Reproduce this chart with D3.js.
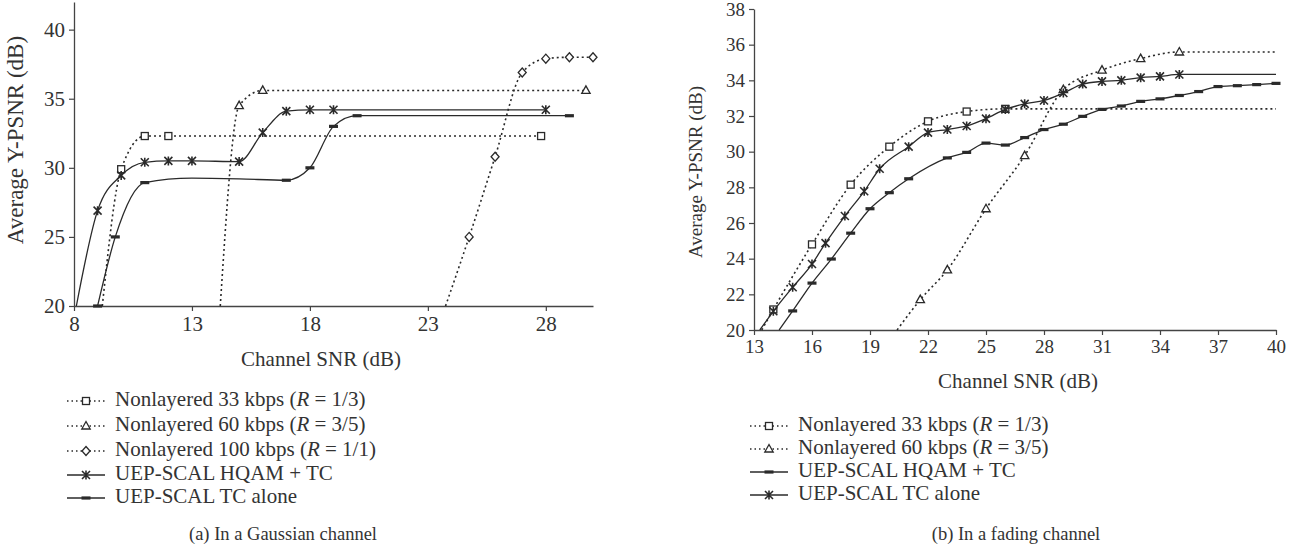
<!DOCTYPE html>
<html>
<head>
<meta charset="utf-8">
<script src="https://cdn.jsdelivr.net/npm/d3@7"></script>
<style>
  body { margin: 0; background: #fff; }
  svg text { font-family: "Liberation Serif", "DejaVu Serif", serif; fill: #333; }
</style>
</head>
<body>
<svg id="chart" width="1304" height="552"></svg>
<script>
// (a) Gaussian channel: [snr, psnr, hasMarker]
const gNl33 = [[9.2, 20, 0], [10, 29.9, 1], [11, 32.3, 1], [12, 32.3, 1], [27.8, 32.3, 1]];
const gNl60 = [[14.2, 20, 0], [15, 34.5, 1], [16, 35.6, 1], [29.7, 35.6, 1]];
const gNl100 = [[23.75, 20, 0], [24.75, 25, 1], [25.85, 30.8, 1], [27, 36.9, 1], [28, 37.9, 1], [29, 38, 1], [30, 38, 1]];
const gHqam = [[8.1, 20, 0], [9, 26.9, 1], [10, 29.45, 1], [11, 30.4, 1], [12, 30.5, 1], [13, 30.5, 1],
    [15, 30.45, 1], [16, 32.55, 1], [17, 34.1, 1], [18, 34.2, 1], [19, 34.2, 1], [28, 34.2, 1]];
const gTc = [[9, 20, 1], [9.75, 25, 1], [11, 28.93, 1], [13, 29.25, 0], [15, 29.2, 0], [17, 29.1, 1],
    [18, 30, 1], [19, 33, 1], [20, 33.77, 1], [29, 33.77, 1]];
const gXTicks = [8, 13, 18, 23, 28];
const gYTicks = [20, 25, 30, 35, 40];

// (b) fading channel
const fNl33 = [[13.4, 20, 0], [14, 21.15, 1], [16, 24.8, 1], [18, 28.15, 1], [20, 30.28, 1], [22, 31.7, 1],
    [24, 32.25, 1], [26, 32.4, 1], [40, 32.4, 0]];
const fNl60 = [[20.4, 20, 0], [21.6, 21.7, 1], [23, 23.37, 1], [25, 26.8, 1], [27, 29.78, 1], [29, 33.48, 1],
    [31, 34.57, 1], [33, 35.22, 1], [35, 35.59, 1], [40, 35.59, 0]];
const fHqam = [[14.3, 20, 0], [15, 21.07, 1], [16, 22.63, 1], [17, 23.98, 1], [18, 25.43, 1], [19, 26.8, 1],
    [20, 27.7, 1], [21, 28.48, 1], [23, 29.65, 1], [24, 29.96, 1], [25, 30.48, 1], [26, 30.37, 1],
    [27, 30.79, 1], [28, 31.24, 1], [29, 31.54, 1], [30, 31.98, 1], [31, 32.37, 1], [32, 32.56, 1],
    [33, 32.82, 1], [34, 32.96, 1], [35, 33.15, 1], [36, 33.37, 1], [37, 33.65, 1], [38, 33.7, 1],
    [39, 33.76, 1], [40, 33.83, 1]];
const fTc = [[13.3, 20, 0], [14, 21.05, 1], [15, 22.4, 1], [16, 23.7, 1], [16.7, 24.87, 1], [17.7, 26.39, 1],
    [18.7, 27.78, 1], [19.5, 29.04, 1], [21, 30.28, 1], [22, 31.07, 1], [23, 31.24, 1], [24, 31.44, 1],
    [25, 31.85, 1], [26, 32.37, 1], [27, 32.68, 1], [28, 32.87, 1], [29, 33.29, 1], [30, 33.79, 1],
    [31, 33.94, 1], [32, 34.0, 1], [33, 34.15, 1], [34, 34.22, 1], [35, 34.33, 1], [40, 34.33, 0]];
const fXTicks = [13, 16, 19, 22, 25, 28, 31, 34, 37, 40];
const fYTicks = [20, 22, 24, 26, 28, 30, 32, 34, 36, 38];

const yTitle = 'Average Y-PSNR (dB)';
const xTitle = 'Channel SNR (dB)';

const svg = d3.select('#chart');
const ink = '#2a2a2a';

function drawMarker(g, type, x, y) {
    if (type === 'square') {
        g.append('rect').attr('x', x - 3.5).attr('y', y - 3.5).attr('width', 7).attr('height', 7)
            .attr('fill', '#fff').attr('stroke', ink).attr('stroke-width', 1.3);
    } else if (type === 'triangle') {
        g.append('path').attr('d', `M${x},${y - 4.5}L${x + 4.2},${y + 3}L${x - 4.2},${y + 3}Z`)
            .attr('fill', '#fff').attr('stroke', ink).attr('stroke-width', 1.3);
    } else if (type === 'diamond') {
        g.append('path').attr('d', `M${x},${y - 4.5}L${x + 4},${y}L${x},${y + 4.5}L${x - 4},${y}Z`)
            .attr('fill', '#fff').attr('stroke', ink).attr('stroke-width', 1.3);
    } else if (type === 'star') {
        g.append('path')
            .attr('d', `M${x - 4},${y - 4}L${x + 4},${y + 4}M${x - 4},${y + 4}L${x + 4},${y - 4}M${x},${y - 4.5}L${x},${y + 4.5}`)
            .attr('fill', 'none').attr('stroke', ink).attr('stroke-width', 1.6);
    } else if (type === 'dash') {
        g.append('rect').attr('x', x - 4.5).attr('y', y - 1.6).attr('width', 9).attr('height', 3.2)
            .attr('fill', ink);
    }
}

function drawPanel(p) {
    const x = d3.scaleLinear().domain(p.xDomain).range(p.xRange);
    const y = d3.scaleLinear().domain(p.yDomain).range(p.yRange);
    const g = svg.append('g');

    const xAxis = g.append('g').attr('transform', `translate(0,${p.yRange[0]})`)
        .call(d3.axisBottom(x).tickValues(p.xTicks).tickSize(5).tickSizeOuter(0).tickPadding(5));
    const yAxis = g.append('g').attr('transform', `translate(${p.xRange[0]},0)`)
        .call(d3.axisLeft(y).tickValues(p.yTicks).tickSize(5).tickSizeOuter(0).tickPadding(4));
    [xAxis, yAxis].forEach(a => {
        a.select('.domain').attr('stroke', '#444').attr('stroke-width', 1.3);
        a.selectAll('.tick line').attr('stroke', '#444').attr('stroke-width', 1.2);
        a.selectAll('.tick text').style('font-family', '"Liberation Serif", serif')
            .style('font-size', p.tickFont + 'px').attr('fill', '#333');
    });

    g.append('text').attr('x', p.xTitlePos[0]).attr('y', p.xTitlePos[1]).attr('text-anchor', 'middle')
        .style('font-size', p.xTitleFont + 'px').text(xTitle);
    g.append('text').attr('transform', `translate(${p.yTitlePos[0]},${p.yTitlePos[1]}) rotate(-90)`)
        .attr('text-anchor', 'middle').attr('dominant-baseline', 'middle')
        .style('font-size', p.yTitleFont + 'px').text(yTitle);

    const line = d3.line().x(d => x(d[0])).y(d => y(d[1])).curve(d3.curveMonotoneX);
    p.series.forEach(s => {
        g.append('path').datum(s.data).attr('d', line).attr('fill', 'none').attr('stroke', ink)
            .attr('stroke-width', s.dotted ? 1.6 : 1.3)
            .attr('stroke-dasharray', s.dotted ? '2,3' : null);
        s.data.filter(d => d[2]).forEach(d => drawMarker(g, s.marker, x(d[0]), y(d[1])));
    });

    // legend
    p.series.forEach((s, i) => {
        const ly = p.legendY[i];
        g.append('line').attr('x1', p.legendX).attr('x2', p.legendX + 38).attr('y1', ly).attr('y2', ly)
            .attr('stroke', ink).attr('stroke-width', s.dotted ? 1.4 : 1.3)
            .attr('stroke-dasharray', s.dotted ? '1.5,3' : null);
        drawMarker(g, s.marker, p.legendX + 19, ly);
        const t = g.append('text').attr('x', p.legendX + 48).attr('y', ly).attr('dominant-baseline', 'middle')
            .style('font-size', p.legendFont + 'px');
        const m = s.label.match(/^(.*)\(R = (.*)\)$/);
        if (m) {
            t.append('tspan').text(m[1] + '(');
            t.append('tspan').style('font-style', 'italic').text('R');
            t.append('tspan').text(' = ' + m[2] + ')');
        } else {
            t.text(s.label);
        }
    });

    g.append('text').attr('x', p.caption[0]).attr('y', p.caption[1]).attr('text-anchor', 'middle')
        .style('font-size', p.captionFont + 'px').text(p.caption[2]);
}

drawPanel({
    xDomain: [8, 30], xRange: [74, 593], yDomain: [20, 42], yRange: [306, 2],
    xTicks: gXTicks, yTicks: gYTicks, tickFont: 21, xTitleFont: 21, yTitleFont: 23, legendFont: 21, captionFont: 18.5,
    xTitlePos: [321, 366], yTitlePos: [18, 140],
    legendX: 67, legendY: [401, 426, 451, 475, 498],
    caption: [283, 540, '(a) In a Gaussian channel'],
    series: [
        { label: 'Nonlayered 33 kbps (R = 1/3)', data: gNl33, marker: 'square', dotted: true },
        { label: 'Nonlayered 60 kbps (R = 3/5)', data: gNl60, marker: 'triangle', dotted: true },
        { label: 'Nonlayered 100 kbps (R = 1/1)', data: gNl100, marker: 'diamond', dotted: true },
        { label: 'UEP-SCAL HQAM + TC', data: gHqam, marker: 'star', dotted: false },
        { label: 'UEP-SCAL TC alone', data: gTc, marker: 'dash', dotted: false }
    ]
});

drawPanel({
    xDomain: [13, 40], xRange: [754, 1276], yDomain: [20, 38], yRange: [330, 9],
    xTicks: fXTicks, yTicks: fYTicks, tickFont: 19, xTitleFont: 21, yTitleFont: 19, legendFont: 21, captionFont: 18.5,
    xTitlePos: [1018, 388], yTitlePos: [698, 172],
    legendX: 750, legendY: [426, 449, 472, 495],
    caption: [1016, 540, '(b) In a fading channel'],
    series: [
        { label: 'Nonlayered 33 kbps (R = 1/3)', data: fNl33, marker: 'square', dotted: true },
        { label: 'Nonlayered 60 kbps (R = 3/5)', data: fNl60, marker: 'triangle', dotted: true },
        { label: 'UEP-SCAL HQAM + TC', data: fHqam, marker: 'dash', dotted: false },
        { label: 'UEP-SCAL TC alone', data: fTc, marker: 'star', dotted: false }
    ]
});
</script>
</body>
</html>
